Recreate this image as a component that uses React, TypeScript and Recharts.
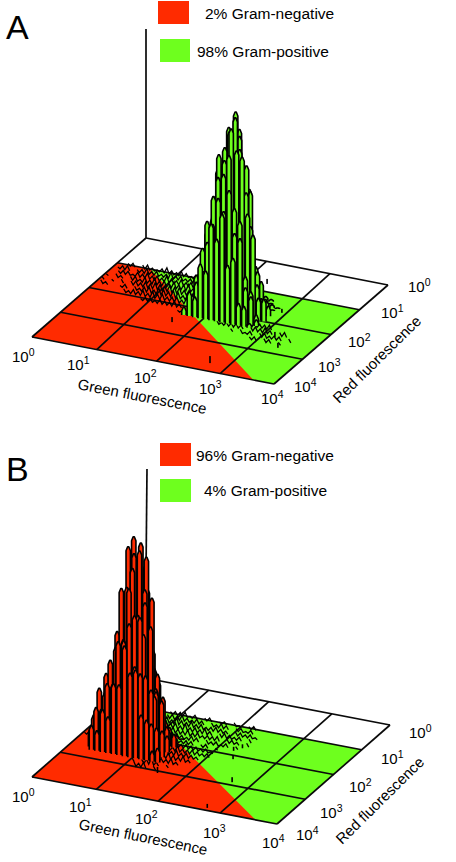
import React from "react";
import { ComposedChart, XAxis, YAxis, Area, Line, Scatter, ReferenceArea } from "recharts";

// ---------- Data: readings from the picture ----------
const legendA = ["2% Gram-negative", "98% Gram-positive"];
const legendB = ["96% Gram-negative", "4% Gram-positive"];
const decades = ["0", "1", "2", "3", "4"];

// heights of the main population on a (red row, green column) grid, back to front
const peakARed = [1.3, 1.4, 1.5, 1.6, 1.7, 1.8, 1.9, 2.0, 2.1, 2.2, 2.3];
const peakAGreen = [1.76, 1.85, 1.94, 2.03, 2.12, 2.21, 2.3, 2.39, 2.48, 2.57, 2.66, 2.75, 2.84];
const peakARowShift = [0.02, -0.03, 0.04, 0, -0.04, 0.03, -0.02, 0.05, -0.03, 0.02, -0.05];
const peakAHeights = [
  [8, 14, 34, 52, 138, 120, 108, 30, 16, 4, 2, 0, 0],
  [14, 20, 46, 88, 158, 140, 135, 58, 32, 7, 4, 1, 0],
  [20, 44, 50, 92, 98, 172, 128, 112, 38, 24, 5, 3, 1],
  [36, 42, 80, 92, 138, 142, 168, 118, 80, 26, 10, 2, 1],
  [34, 70, 84, 134, 140, 178, 170, 158, 98, 58, 14, 10, 2],
  [40, 46, 92, 98, 160, 158, 198, 150, 146, 70, 42, 15, 10],
  [24, 58, 66, 112, 155, 150, 180, 195, 145, 122, 46, 32, 9],
  [34, 38, 72, 70, 122, 132, 186, 165, 160, 104, 84, 22, 22],
  [6, 36, 40, 92, 90, 138, 142, 162, 110, 98, 44, 30, 8],
  [12, 32, 32, 74, 70, 120, 108, 130, 88, 84, 36, 28, 6],
  [8, 24, 20, 54, 48, 96, 82, 108, 58, 66, 22, 20, 4],
];
const peakBRed = [1.72, 1.82, 1.92, 2.02, 2.12, 2.22, 2.32, 2.42, 2.52, 2.62, 2.72];
const peakBGreen = [0.33, 0.42, 0.51, 0.6, 0.69, 0.78, 0.87, 0.96, 1.05, 1.14, 1.23, 1.32, 1.41];
const peakBRowShift = [-0.02, 0.03, -0.04, 0.01, 0.04, -0.03, 0.02, -0.05, 0.03, -0.01, 0.05];
const peakBHeights = [
  [12, 16, 38, 48, 92, 82, 68, 30, 18, 4, 3, 0, 0],
  [12, 34, 40, 78, 100, 140, 92, 66, 24, 16, 3, 3, 1],
  [26, 30, 62, 72, 130, 150, 150, 88, 58, 20, 14, 2, 3],
  [24, 52, 58, 106, 118, 180, 172, 150, 90, 60, 18, 16, 3],
  [44, 46, 82, 92, 152, 160, 198, 185, 145, 70, 48, 16, 13],
  [36, 64, 64, 108, 140, 195, 206, 178, 155, 84, 58, 28, 22],
  [44, 44, 74, 78, 144, 154, 192, 196, 145, 122, 58, 50, 16],
  [26, 54, 50, 84, 98, 158, 160, 180, 134, 116, 56, 56, 20],
  [34, 36, 60, 60, 100, 110, 162, 136, 135, 78, 65, 28, 26],
  [18, 40, 36, 66, 66, 110, 112, 130, 88, 82, 32, 34, 8],
  [24, 20, 42, 36, 70, 70, 110, 84, 88, 44, 40, 10, 14],
];

// low scattered events: red row, first green value, heights every 0.08 green
const noiseARed = [1.05, 1.2, 1.35, 1.5, 1.65, 1.8, 1.95, 2.1, 2.25, 2.4, 2.55, 2.7];
const noiseAStart = [0.2, 0.1, 0.1, 0.05, 0.05, 0.1, 0.55, 0.9, 1.5, 2.3, 2.6, 2.9];
const noiseAHeights = [
  [3, 4, 0, 4, 5, 3, 2, 4, 6, 4, 3, 5, 4, 2, 4, 6, 4, 3, 5, 4],
  [2, 4, 5, 0, 3, 4, 6, 4, 5, 3, 4, 7, 4, 5, 3, 4, 6, 4, 4, 3, 5, 4, 2],
  [0, 3, 4, 4, 2, 5, 4, 6, 4, 5, 4, 7, 5, 4, 6, 4, 5, 4, 7, 4, 4, 6, 3, 4],
  [2, 0, 4, 3, 0, 4, 5, 3, 6, 4, 7, 5, 6, 4, 7, 5, 6, 7, 4, 6, 5, 4, 4, 6, 3, 4],
  [3, 0, 2, 0, 4, 0, 4, 5, 4, 6, 5, 7, 6, 5, 7, 6, 7, 5, 6, 4, 7, 5, 4, 4, 5, 6],
  [4, 3, 0, 0, 2, 4, 0, 4, 3, 5, 6, 4, 7, 6, 5, 7, 6, 4, 6, 7, 5, 4, 4, 5, 4],
  [4, 3, 5, 4, 6, 4, 7, 5, 6, 4, 5, 6, 4, 7, 5, 4, 6, 4, 5, 4, 5, 4],
  [2, 4, 4, 3, 5, 4, 4, 6, 4, 0, 3, 4, 5, 4, 6, 4, 4, 5, 6, 4, 4, 5, 4],
  [0, 2, 3, 0, 0, 0, 0, 4, 4, 5, 4, 6, 4, 5, 4, 6, 4, 5, 4, 4, 5],
  [4, 3, 4, 4, 5, 4, 0, 4, 5, 4, 6, 4, 0, 4, 5],
  [3, 0, 4, 2, 4, 0, 4, 5, 3, 4, 4, 0, 4],
  [0, 3, 4, 0, 4, 4, 0, 3],
];
const strayAGreen = [2.35, 1.66, 2.81, 3.0, 3.49, 3.28, 1.95];
const strayARed = [0.74, 2.61, 3.72, 1.6, 2.78, 2.44, 2.31];
const strayAHeights = [5, 5, 7, 4, 5, 5, 4];

const noiseBRed = [1.05, 1.2, 1.35, 1.5, 1.65, 1.8, 1.95, 2.1, 2.25, 2.4, 2.55, 2.7, 2.85, 3.0];
const noiseBStart = [0.9, 0.92, 0.9, 0.95, 0.9, 0.95, 0.85, 0.2, 0.05, 0.1, 0.2, 0.95, 1.1, 1.2];
const noiseBHeights = [
  [3, 4, 4, 5, 2, 4, 0, 3, 4, 0, 2, 3, 0, 4, 2, 0, 3, 4],
  [4, 5, 4, 6, 4, 3, 5, 4, 0, 4, 3, 5, 4, 0, 3, 4, 2, 4],
  [5, 6, 4, 7, 5, 4, 6, 4, 5, 3, 4, 5, 4, 3, 0, 4, 4, 3, 4, 2],
  [6, 7, 5, 6, 4, 7, 4, 5, 4, 6, 4, 0, 4, 5, 4, 3, 4, 0, 4],
  [7, 5, 6, 4, 6, 5, 4, 6, 4, 5, 3, 4, 4, 5, 0, 4, 4, 3, 0, 4],
  [6, 7, 5, 6, 4, 5, 4, 3, 5, 4, 0, 4, 3, 4, 2, 4, 0, 3],
  [7, 6, 5, 7, 4, 6, 4, 5, 3, 4, 4, 0, 3, 4, 0, 2],
  [3, 4, 4, 5, 4, 6, 4, 5, 4, 6, 7, 5, 6, 4, 7, 5, 6, 4, 5, 4, 4, 3, 4, 2],
  [2, 4, 3, 4, 5, 4, 6, 4, 4, 5, 4, 6, 4, 5, 7, 4, 6, 5, 4, 6, 4, 4, 5, 4, 3, 4],
  [0, 2, 3, 0, 4, 3, 4, 4, 2, 4, 3, 4, 4, 5, 4, 6, 5, 7, 4, 6, 4, 5, 4, 3],
  [0, 2, 0, 3, 0, 0, 2, 0, 3, 2, 4, 3, 4, 4, 5, 6, 4, 7, 5, 4, 6, 3],
  [4, 4, 5, 6, 4, 7, 5, 4, 4, 6, 3],
  [4, 0, 4, 5, 7, 4, 0, 3],
  [5, 4, 6, 0, 4],
];
const strayBGreen = [2.38, 2.3, 2.42, 2.76, 2.82, 1.62];
const strayBRed = [1.71, 1.85, 2.13, 2.9, 3.91, 3.07];
const strayBHeights = [4, 4, 4, 5, 4, 6];

// ---------- Geometry helpers ----------
const RED = "#ff2b00";
const GREEN = "#6eff1e";
const INK = "#0a0a0a";
type Pt = { px: number; py: number | null };
type Proj = (g: number, r: number, h?: number) => { px: number; py: number };

const makeProject = (fl: number[], gv: number[], rv: number[]): Proj => (g, r, h = 0) => ({
  px: fl[0] + (g / 4) * gv[0] + ((4 - r) / 4) * rv[0],
  py: fl[1] + (g / 4) * gv[1] + ((4 - r) / 4) * rv[1] - h,
});

// turn a convex polygon into lower and upper edges for a range Area
function band(poly: { px: number; py: number }[]) {
  const xs = Array.from(new Set(poly.map((p) => p.px))).sort((a, b) => a - b);
  return xs.map((x) => {
    const ys: number[] = [];
    poly.forEach((a, i) => {
      const b = poly[(i + 1) % poly.length];
      const lo = Math.min(a.px, b.px);
      const hi = Math.max(a.px, b.px);
      if (x < lo || x > hi) return;
      if (a.px === b.px) ys.push(a.py, b.py);
      else ys.push(a.py + ((x - a.px) / (b.px - a.px)) * (b.py - a.py));
    });
    return { px: x, band: [Math.min(...ys), Math.max(...ys)] };
  });
}

type Spike = { px: number; py: number; drop: number; kind: string };

function peakSpikes(project: Proj, pRed: number[], pGreen: number[], shift: number[], pH: number[][], sG: number[], sR: number[], sH: number[]) {
  const out: Spike[] = [];
  sG.forEach((g, i) => out.push({ ...project(g, sR[i], sH[i]), drop: sH[i], kind: "tick" }));
  pRed.forEach((r, j) =>
    pGreen.forEach((g, i) => {
      const h = pH[j][i];
      if (h > 0) out.push({ ...project(g + shift[j], r, h), drop: h, kind: "peak" });
    }),
  );
  return out;
}

// one row of low events as a zigzag wire
function noiseWire(project: Proj, r: number, start: number, heights: number[]) {
  const out: Pt[] = [];
  heights.forEach((h, i) => {
    const g = start + i * 0.08;
    if (h === 0) {
      out.push({ px: project(g, r).px, py: null });
    } else {
      out.push(project(g, r, h));
      out.push(project(g + 0.035, r, 0.5));
    }
  });
  return out;
}

const SpikeShape = (fill: string) => (p: any) => {
  const s = p.payload as Spike;
  const { cx, cy } = p;
  if (s.kind === "peak") {
    const taper = Math.min(4, s.drop / 2);
    const base = cy + s.drop;
    const d = `M${cx - 2.2} ${base}L${cx - 2.2} ${cy + taper}L${cx - 0.6} ${cy}L${cx + 0.6} ${cy}L${cx + 2.2} ${cy + taper}L${cx + 2.2} ${base}`;
    return <path d={d} fill={fill} stroke="#000" strokeWidth={1.6} strokeLinejoin="round" />;
  }
  return <rect x={cx - 0.8} y={cy} width={1.6} height={s.drop} fill="#000" />;
};

const FONT = "Liberation Sans, Arial, sans-serif";
type Lab = { px: number; py: number; text: string; size: number; angle?: number };
const LabelShape = (p: any) => {
  const l = p.payload as Lab;
  return (
    <text x={p.cx} y={p.cy} fontFamily={FONT} fontSize={l.size} fill="#000"
      transform={l.angle ? `rotate(${l.angle} ${p.cx} ${p.cy})` : undefined}>
      {l.text}
    </text>
  );
};
const ExpShape = (p: any) => (
  <text x={p.cx} y={p.cy} fontFamily={FONT} fontSize={15} fill="#000">
    10<tspan fontSize={10.5} dy={-6}>{p.payload.exp}</tspan>
  </text>
);

// ---------- Panels ----------
const at = (px: number, py: number) => ({ px, py });

const panels = [
  {
    project: makeProject([32, 337], [242, 47], [114, -99]),
    axisTop: 29, axisX: 146,
    redFront: 3.66, redTop: 0.54,
    front: [1.07, 2.06, 3.11], back: [0.97, 1.99, 3.04],
    spikes: (pr: Proj) => peakSpikes(pr, peakARed, peakAGreen, peakARowShift, peakAHeights, strayAGreen, strayARed, strayAHeights),
    noiseRed: noiseARed, noiseStart: noiseAStart, noiseH: noiseAHeights, split: 1.9,
    fill: GREEN,
    greenPos: [at(12, 362), at(67, 370), at(134, 383), at(199, 394), at(261, 404)],
    redPos: [at(408, 292), at(381, 318), at(348, 347), at(318, 372), at(294, 392)],
    titles: [
      { ...at(77, 389), text: "Green fluorescence", size: 15, angle: 11 },
      { ...at(339, 404), text: "Red fluorescence", size: 15, angle: -44.6 },
      { ...at(6, 39), text: "A", size: 34 },
      { ...at(205, 19), text: legendA[0], size: 15.5 },
      { ...at(197, 57), text: legendA[1], size: 15.5 },
    ],
    swatches: [[158, 189, 1, 24, RED], [160, 190, 39, 62, GREEN]] as [number, number, number, number, string][],
  },
  {
    project: makeProject([32, 777], [245, 47], [113, -99]),
    axisTop: 469, axisX: 147,
    redFront: 3.65, redTop: 0.44,
    front: [1.05, 2.06, 3.07], back: [1.04, 2.02, 3.05],
    spikes: (pr: Proj) => peakSpikes(pr, peakBRed, peakBGreen, peakBRowShift, peakBHeights, strayBGreen, strayBRed, strayBHeights),
    noiseRed: noiseBRed, noiseStart: noiseBStart, noiseH: noiseBHeights, split: 2.0,
    fill: RED,
    greenPos: [at(12, 802), at(69, 812), at(135, 824), at(203, 838), at(262, 848)],
    redPos: [at(409, 738), at(381, 764), at(349, 792), at(320, 818), at(296, 840)],
    titles: [
      { ...at(78, 829), text: "Green fluorescence", size: 15, angle: 11.5 },
      { ...at(342, 845), text: "Red fluorescence", size: 15, angle: -44.6 },
      { ...at(6, 481), text: "B", size: 34 },
      { ...at(196, 461), text: legendB[0], size: 15.5 },
      { ...at(204, 496), text: legendB[1], size: 15.5 },
    ],
    swatches: [[160, 191, 443, 466, RED], [160, 191, 479, 502, GREEN]] as [number, number, number, number, string][],
  },
];

const gridIndex = [0, 1, 2, 3, 4];

export default function App() {
  const items: React.ReactNode[] = [];
  panels.forEach((pn, k) => {
    const p = pn.project;
    const floorGreen = [p(0, 1), p(4, 1), p(4, 4), p(0, 4)];
    const floorRed = [p(0, 1), p(pn.redTop, 1), p(pn.redFront, 4), p(0, 4)];
    items.push(<Area key={`g${k}`} data={band(floorGreen)} dataKey="band" fill={GREEN} fillOpacity={1} stroke="none" isAnimationActive={false} dot={false} activeDot={false} />);
    items.push(<Area key={`r${k}`} data={band(floorRed)} dataKey="band" fill={RED} fillOpacity={1} stroke="none" isAnimationActive={false} dot={false} activeDot={false} />);
    const lines: Pt[][] = [];
    gridIndex.forEach((r) => lines.push([p(0, r), p(4, r)]));
    lines.push([p(0, 0), p(0, 4)], [p(4, 0), p(4, 4)]);
    pn.front.forEach((g, i) => lines.push([p(pn.back[i], 0), p(g, 4)]));
    lines.push([{ px: pn.axisX, py: pn.axisTop }, p(0, 0)]);
    lines.forEach((d, i) =>
      items.push(<Line key={`l${k}-${i}`} data={d} dataKey="py" stroke={INK} strokeWidth={1.7} dot={false} activeDot={false} isAnimationActive={false} />),
    );
    const wire = (r: number, j: number) => (
      <Line key={`n${k}-${j}`} data={noiseWire(p, r, pn.noiseStart[j], pn.noiseH[j])} dataKey="py" stroke="#000" strokeWidth={1.3} dot={false} activeDot={false} isAnimationActive={false} />
    );
    pn.noiseRed.forEach((r, j) => { if (r < pn.split) items.push(wire(r, j)); });
    items.push(<Scatter key={`s${k}`} data={pn.spikes(p)} shape={SpikeShape(pn.fill)} isAnimationActive={false} />);
    pn.noiseRed.forEach((r, j) => { if (r >= pn.split) items.push(wire(r, j)); });
    pn.swatches.forEach((s, i) =>
      items.push(<ReferenceArea key={`a${k}-${i}`} x1={s[0]} x2={s[1]} y1={s[2]} y2={s[3]} fill={s[4]} fillOpacity={1} stroke="none" />),
    );
    items.push(<Scatter key={`t${k}`} data={pn.titles} shape={LabelShape} isAnimationActive={false} />);
    items.push(<Scatter key={`eg${k}`} data={pn.greenPos.map((q, i) => ({ ...q, exp: decades[i] }))} shape={ExpShape} isAnimationActive={false} />);
    items.push(<Scatter key={`er${k}`} data={pn.redPos.map((q, i) => ({ ...q, exp: decades[i] }))} shape={ExpShape} isAnimationActive={false} />);
  });
  return (
    <div style={{ position: "absolute", left: 0, top: 0, width: 456, height: 862, background: "#fff" }}>
      <ComposedChart width={456} height={862} margin={{ top: 0, right: 0, bottom: 0, left: 0 }}>
        <XAxis type="number" dataKey="px" domain={[0, 456]} hide allowDataOverflow />
        <YAxis type="number" dataKey="py" domain={[0, 862]} reversed hide allowDataOverflow />
        {items}
      </ComposedChart>
    </div>
  );
}
